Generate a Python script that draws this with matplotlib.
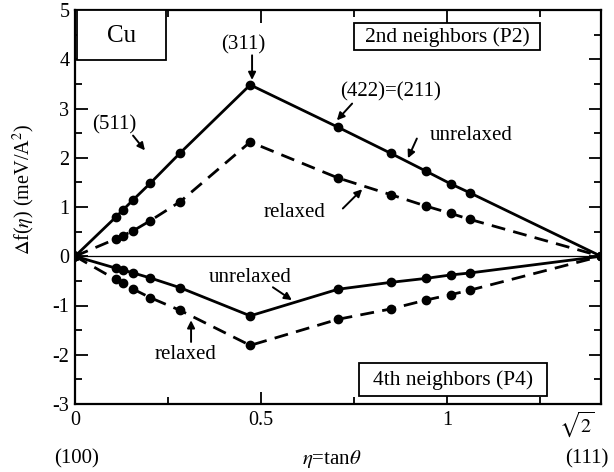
import matplotlib
matplotlib.use("Agg")
import matplotlib.pyplot as plt
import matplotlib.transforms as mtransforms
from matplotlib.patches import Rectangle
from matplotlib.ticker import MultipleLocator, FixedLocator

plt.rcParams['font.family'] = ['Liberation Serif', 'DejaVu Serif']
plt.rcParams['mathtext.fontset'] = 'stix'
plt.rcParams['axes.unicode_minus'] = False

# eta = tan(theta) for the (h k k) planes
eta = [0, 0.109, 0.129, 0.157, 0.202, 0.283, 0.471, 0.707, 0.849, 0.943, 1.010, 1.061, 1.414]

# 2nd neighbours (P2)
p2_unrelaxed = [0, 0.79, 0.94, 1.15, 1.48, 2.10, 3.48, 2.62, 2.09, 1.73, 1.47, 1.29, 0]
p2_relaxed = [0, 0.35, 0.42, 0.52, 0.72, 1.11, 2.32, 1.59, 1.25, 1.02, 0.87, 0.75, 0]

# 4th neighbours (P4)
p4_unrelaxed = [0, -0.24, -0.28, -0.34, -0.44, -0.64, -1.21, -0.67, -0.53, -0.45, -0.38, -0.34, 0]
p4_relaxed = [0, -0.47, -0.55, -0.67, -0.84, -1.10, -1.81, -1.28, -1.07, -0.89, -0.78, -0.69, 0]

xticks = [0, 0.5, 1, 1.414]
xticklabels = ['0', '0.5', '1', r'$\sqrt{2}$']

fig = plt.figure(figsize=(6.14, 4.72), dpi=100)
ax = fig.add_axes([75 / 614, 68 / 472, 526 / 614, 394 / 472])

ax.axhline(0, color='black', lw=0.9)

lw = 2.0
ms = 6
dash = (0, (5, 3))
ax.plot(eta, p2_unrelaxed, color='black', lw=lw, marker='o', ms=ms)
ax.plot(eta, p2_relaxed, color='black', lw=lw, ls=dash, marker='o', ms=ms)
ax.plot(eta, p4_unrelaxed, color='black', lw=lw, marker='o', ms=ms)
ax.plot(eta, p4_relaxed, color='black', lw=lw, ls=dash, marker='o', ms=ms)

ax.set_xlim(0, 1.414)
ax.set_ylim(-3, 5)
ax.xaxis.set_major_locator(FixedLocator(xticks))
ax.set_xticklabels(xticklabels)
ax.xaxis.set_minor_locator(MultipleLocator(0.25))
ax.yaxis.set_major_locator(MultipleLocator(1))
ax.yaxis.set_minor_locator(MultipleLocator(0.5))
ax.tick_params(which='both', direction='in', top=True, right=True, width=1.3, labelsize=14.5)
ax.tick_params(which='major', length=9)
ax.tick_params(which='minor', length=5)
ax.tick_params(axis='x', pad=5)
ax.tick_params(axis='y', pad=4)
for s in ax.spines.values():
    s.set_linewidth(1.6)

# sqrt(2) label sits a little left of the axis end
sq = ax.get_xticklabels()[-1]
sq.set_horizontalalignment('right')
sq.set_transform(sq.get_transform() + mtransforms.ScaledTranslation(-6 / 100, 2 / 100, fig.dpi_scale_trans))

ax.set_ylabel(r'$\Delta$f($\eta$) (meV/A$^2$)', fontsize=14.5)
ax.yaxis.set_label_coords(-0.072, 0.545)

# boxed labels
boxes = [((0.005, 3.98), 0.240, 1.02, 'Cu', 18, (0.125, 4.48)),
         ((0.750, 4.18), 0.500, 0.55, '2nd neighbors (P2)', 15.5, (1.0, 4.44)),
         ((0.763, -2.84), 0.506, 0.67, '4th neighbors (P4)', 15.5, (1.016, -2.52))]
for corner, w, h, label, size, pos in boxes:
    ax.add_patch(Rectangle(corner, w, h, fc='white', ec='black', lw=1.3, zorder=3))
    ax.text(pos[0], pos[1], label, fontsize=size, ha='center', va='center', zorder=4)

arrow = dict(arrowstyle='-|>', color='black', lw=1.4, mutation_scale=11, shrinkA=0, shrinkB=0)
fs = 15
notes = [('(311)', (0.452, 4.30), (0.476, 4.08), (0.476, 3.58)),
         ('(511)', (0.105, 2.66), (0.156, 2.45), (0.188, 2.15)),
         ('(422)=(211)', (0.847, 3.33), (0.745, 3.10), (0.704, 2.76)),
         ('unrelaxed', (1.065, 2.45), (0.919, 2.39), (0.895, 1.99)),
         ('relaxed', (0.591, 0.89), (0.720, 0.97), (0.772, 1.36)),
         ('unrelaxed', (0.470, -0.43), (0.532, -0.63), (0.583, -0.89)),
         ('relaxed', (0.298, -1.99), (0.312, -1.74), (0.312, -1.30))]
for label, tpos, tail, head in notes:
    ax.text(tpos[0], tpos[1], label, fontsize=fs, ha='center', va='center')
    ax.annotate('', xy=head, xytext=tail, arrowprops=arrow)

# labels under the axis
fig.text(77 / 614, 1 - 459 / 472, '(100)', fontsize=15, ha='center', va='center')
fig.text(332 / 614, 1 - 459 / 472, r'$\eta$=tan$\theta$', fontsize=15, ha='center', va='center')
fig.text(587 / 614, 1 - 459 / 472, '(111)', fontsize=15, ha='center', va='center')

fig.savefig('out.png', dpi=100)
